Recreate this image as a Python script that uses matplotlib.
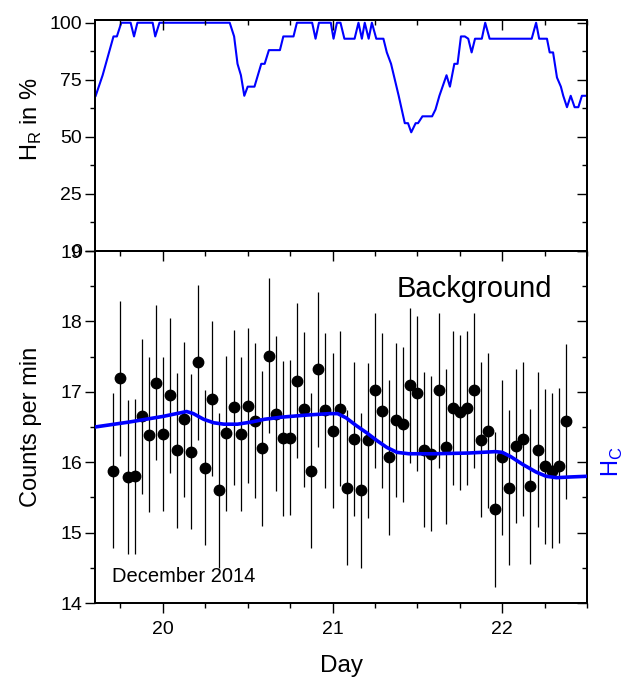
import numpy as np
import matplotlib
matplotlib.use("Agg")
import matplotlib.pyplot as plt
from matplotlib.ticker import MultipleLocator

plt.rcParams['font.family'] = ['Liberation Sans', 'DejaVu Sans']
plt.rcParams['mathtext.fontset'] = 'custom'
plt.rcParams['mathtext.rm'] = 'Liberation Sans'

# ---- Relative humidity (top panel) ----
hr_day = [19.604, 19.645, 19.709, 19.729, 19.755, 19.81, 19.83, 19.85, 19.94, 19.955,
          19.98, 20.394, 20.42, 20.44, 20.46, 20.48, 20.50, 20.54, 20.58, 20.60,
          20.625, 20.69, 20.71, 20.77, 20.79, 20.88, 20.90, 20.92, 20.99, 21.006,
          21.026, 21.047, 21.07, 21.13, 21.153, 21.173, 21.19, 21.213, 21.232, 21.258,
          21.30, 21.32, 21.345, 21.39, 21.426, 21.445, 21.464, 21.49, 21.504, 21.53,
          21.587, 21.607, 21.63, 21.672, 21.692, 21.718, 21.737, 21.757, 21.78, 21.80,
          21.82, 21.84, 21.88, 21.90, 21.926, 22.174, 22.20, 22.218, 22.264, 22.28,
          22.30, 22.323, 22.346, 22.36, 22.382, 22.404, 22.427, 22.449, 22.47, 22.51]
hr_val = [68, 77, 94, 94, 100, 100, 94, 100, 100, 94,
          100, 100, 94, 82, 77, 68, 72, 72, 82, 82,
          88, 88, 94, 94, 100, 100, 93, 100, 100, 93,
          100, 100, 93, 93, 100, 93, 100, 93, 100, 93,
          93, 87, 82, 68, 56, 56, 52, 56, 56, 59,
          59, 62, 68, 77, 72, 82, 82, 94, 94, 93,
          87, 93, 93, 100, 93, 93, 100, 93, 93, 87,
          87, 76, 72, 68, 63, 68, 63, 63, 68, 68]

# ---- Background counts (bottom panel), hourly from 17:00 on Dec 19 ----
point_hours = np.arange(65)
point_days = 19 + (17 + point_hours) / 24.0
counts = [15.88, 17.19, 15.79, 15.80, 16.65, 16.39, 17.13, 16.40, 16.95, 16.17,
          16.61, 16.15, 17.42, 15.92, 16.90, 15.60, 16.41, 16.78, 16.40, 16.80,
          16.59, 16.20, 17.51, 16.69, 16.34, 16.35, 17.16, 16.75, 15.88, 17.32,
          16.74, 16.45, 16.76, 15.64, 16.33, 15.60, 16.31, 17.02, 16.73, 16.07,
          16.60, 16.54, 17.09, 16.98, 16.18, 16.12, 17.02, 16.22, 16.77, 16.71,
          16.77, 17.02, 16.32, 16.45, 15.33, 16.07, 15.64, 16.23, 16.33, 15.66,
          16.18, 15.94, 15.88, 15.95, 16.58]
count_err = [1.1] * len(counts)

# ---- Absolute humidity H_C (right axis of bottom panel) ----
hc_day = [19.60, 19.80, 20.00, 20.10, 20.14, 20.18, 20.24, 20.30, 20.36, 20.44,
          20.52, 20.60, 20.70, 20.85, 20.98, 21.03, 21.08, 21.14, 21.20, 21.26,
          21.32, 21.38, 21.45, 21.60, 21.80, 21.96, 22.00, 22.05, 22.12, 22.20,
          22.26, 22.32, 22.40, 22.50]
hc_val = [16.50, 16.57, 16.65, 16.70, 16.72, 16.69, 16.61, 16.56, 16.54, 16.54,
          16.57, 16.61, 16.64, 16.67, 16.69, 16.69, 16.63, 16.52, 16.42, 16.31,
          16.21, 16.14, 16.12, 16.12, 16.13, 16.15, 16.14, 16.08, 15.97, 15.86,
          15.80, 15.78, 15.79, 15.80]

top_ticks = [0, 25, 50, 75, 100]
bottom_ticks = [14, 15, 16, 17, 18, 19]
day_ticks = [20, 21, 22]

BLUE = '#0000ff'
TICK_FS = 14
LABEL_FS = 17
MAJ_LEN, MIN_LEN = 7.2, 3.6
TW = 1.0
SW = 1.3

fig = plt.figure(figsize=(6.32, 6.78), dpi=100)
L, W = 95 / 632, 492 / 632
ax1 = fig.add_axes([L, 1 - 251 / 678, W, 231 / 678])
ax2 = fig.add_axes([L, 1 - 603 / 678, W, 352 / 678])

xlim = (19.6, 22.5)
hr_lim = (0, 101.2)

# top panel
ax1.plot(hr_day, hr_val, color=BLUE, lw=1.5)
ax1.set_xlim(*xlim)
ax1.set_ylim(*hr_lim)
ax1.set_yticks(top_ticks)
ax1.yaxis.set_minor_locator(MultipleLocator(12.5))
ax1.set_xticks(day_ticks)
ax1.xaxis.set_minor_locator(MultipleLocator(0.25))
ax1.tick_params(axis='both', which='both', direction='out', width=TW,
                labelsize=TICK_FS, pad=2, top=False, right=False, labelbottom=False)
ax1.tick_params(which='major', length=MAJ_LEN)
ax1.tick_params(which='minor', length=MIN_LEN)

ax1t = ax1.twiny()
ax1t.set_xlim(*xlim)
ax1t.set_xticks(day_ticks)
ax1t.xaxis.set_minor_locator(MultipleLocator(0.25))
ax1t.tick_params(axis='x', which='both', direction='in', width=TW, labeltop=False)
ax1t.tick_params(which='major', length=MAJ_LEN)
ax1t.tick_params(which='minor', length=MIN_LEN)

ax1r = ax1.twinx()
ax1r.set_ylim(*hr_lim)
ax1r.set_yticks(top_ticks)
ax1r.yaxis.set_minor_locator(MultipleLocator(12.5))
ax1r.tick_params(axis='y', which='both', direction='in', width=TW, labelright=False)
ax1r.tick_params(which='major', length=MAJ_LEN)
ax1r.tick_params(which='minor', length=MIN_LEN)

# bottom panel
ax2.errorbar(point_days, counts, yerr=count_err, fmt='o', color='black',
             ms=7.5, elinewidth=0.9, capsize=0, zorder=3)
ax2.set_xlim(*xlim)
ax2.set_ylim(14, 19)
ax2.set_yticks(bottom_ticks)
ax2.yaxis.set_minor_locator(MultipleLocator(0.5))
ax2.set_xticks(day_ticks)
ax2.xaxis.set_minor_locator(MultipleLocator(0.25))
ax2.tick_params(axis='both', which='both', direction='out', width=TW,
                labelsize=TICK_FS, top=False, right=False)
ax2.tick_params(axis='y', pad=2)
ax2.tick_params(axis='x', pad=6)
ax2.tick_params(which='major', length=MAJ_LEN)
ax2.tick_params(which='minor', length=MIN_LEN)

ax2r = ax2.twinx()
ax2r.set_ylim(14, 19)
ax2r.plot(hc_day, hc_val, color=BLUE, lw=2.6, zorder=4)
ax2r.set_xlim(*xlim)
ax2r.set_yticks(bottom_ticks)
ax2r.yaxis.set_minor_locator(MultipleLocator(0.5))
ax2r.tick_params(axis='y', which='both', direction='in', width=TW, labelright=False)
ax2r.tick_params(which='major', length=MAJ_LEN)
ax2r.tick_params(which='minor', length=MIN_LEN)

for a in (ax1, ax1t, ax1r, ax2, ax2r):
    for s in a.spines.values():
        s.set_linewidth(SW)
    a.patch.set_visible(False)

ax2.text(0.93, 0.893, 'Background', transform=ax2.transAxes, ha='right',
         va='center', fontsize=21)
ax2.text(0.035, 0.075, 'December 2014', transform=ax2.transAxes, ha='left',
         va='center', fontsize=14.5)

fig.text(31 / 632, 1 - 119 / 678, 'H$_\\mathregular{R}$ in %', rotation=90,
         ha='center', va='center', fontsize=LABEL_FS)
fig.text(31 / 632, 1 - 427 / 678, 'Counts per min', rotation=90,
         ha='center', va='center', fontsize=LABEL_FS)
fig.text(341 / 632, 1 - 666 / 678, 'Day', ha='center', va='center', fontsize=17.5)
fig.text(612 / 632, 1 - 462 / 678, 'H$_\\mathregular{C}$', rotation=90, color=BLUE,
         ha='center', va='center', fontsize=LABEL_FS)

fig.savefig('out.png', dpi=100)
